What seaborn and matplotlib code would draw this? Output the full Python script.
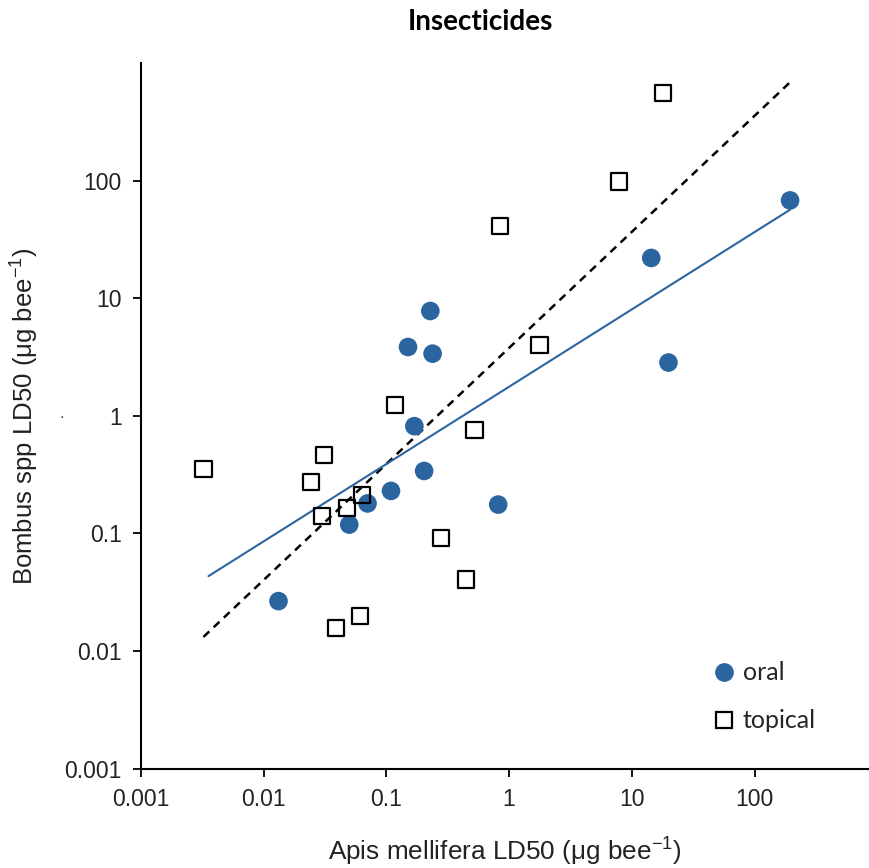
import numpy as np
import pandas as pd
import seaborn as sns
import matplotlib.pyplot as plt
from matplotlib.lines import Line2D

### Data (ug per bee).
oral_apis = [0.0132, 0.0498, 0.0702, 0.109, 0.203, 0.815, 0.169, 0.228, 0.150, 0.238, 14.4, 195, 19.9]
oral_bombus = [0.0266, 0.119, 0.180, 0.230, 0.340, 0.176, 0.817, 7.79, 3.85, 3.38, 22.0, 67.9, 2.84]

topical_apis = [0.00323, 0.0311, 0.0244, 0.0301, 0.0476, 0.0631, 0.278, 0.445, 0.0611, 0.039,
                0.118, 0.522, 0.845, 1.77, 18.1, 7.89]
topical_bombus = [0.356, 0.462, 0.274, 0.140, 0.165, 0.214, 0.0909, 0.0406, 0.0200, 0.0156,
                  1.23, 0.755, 40.8, 3.98, 558, 98.4]

### Fitted lines (end points).
oral_fit_x = [0.00355, 195]
oral_fit_y = [0.0434, 56.6]
topical_fit_x = [0.00323, 198]
topical_fit_y = [0.0132, 697]

tick_vals = [0.001, 0.01, 0.1, 1, 10, 100]
tick_labels = ['0.001', '0.01', '0.1', '1', '10', '100']

oral = pd.DataFrame({'apis': oral_apis, 'bombus': oral_bombus})
topical = pd.DataFrame({'apis': topical_apis, 'bombus': topical_bombus})

blue = '#2b65a0'

sns.set_style('white')
plt.rcParams['font.family'] = ['Liberation Sans', 'DejaVu Sans']
plt.rcParams['mathtext.fontset'] = 'custom'
plt.rcParams['mathtext.rm'] = 'Liberation Sans'
plt.rcParams['mathtext.it'] = 'Liberation Sans'

fig = plt.figure(figsize=(8.70, 8.68), dpi=100)
ax = fig.add_axes([141 / 870, (868 - 768.7) / 868, 727 / 870, 705.7 / 868])

### Lines.
sns.lineplot(x=topical_fit_x, y=topical_fit_y, ax=ax, color='black', linewidth=1.8,
             linestyle=(0, (3.2, 2.4)), zorder=2)
sns.lineplot(x=oral_fit_x, y=oral_fit_y, ax=ax, color=blue, linewidth=1.5, zorder=2)

### Points.
sns.scatterplot(x='apis', y='bombus', data=oral, ax=ax, color=blue, s=180,
                edgecolor='none', zorder=3)
sns.scatterplot(x='apis', y='bombus', data=topical, ax=ax, marker='s', s=135,
                facecolor='none', edgecolor='black', linewidth=1.6, zorder=4)

ax.set_xscale('log')
ax.set_yscale('log')
ax.set_xlim(0.001, 10 ** 2.925)
ax.set_ylim(0.001, 1000)
ax.set_xticks(tick_vals)
ax.set_xticklabels(tick_labels)
ax.set_yticks(tick_vals)
ax.set_yticklabels(tick_labels)
ax.minorticks_off()

sns.despine(ax=ax)
for side in ['left', 'bottom']:
    ax.spines[side].set_color('black')
    ax.spines[side].set_linewidth(1.5)
ax.tick_params(axis='both', direction='out', length=6, width=1.3, color='black',
               labelsize=16.5, labelcolor='#222222', pad=8, bottom=True, left=True)

ax.set_xlabel(r'Apis mellifera LD50 ($\mathrm{\mu}$g bee$^{-1}$)', fontsize=18.8, color='#222222')
ax.set_ylabel(r'Bombus spp LD50 ($\mathrm{\mu}$g bee$^{-1}$)', fontsize=18.5, color='#222222')
ax.xaxis.set_label_coords(0.5, -0.095)
ax.yaxis.set_label_coords(-0.137, 0.5)

fig.text(480 / 870, 1 - 22 / 868, 'Insecticides', fontsize=20, fontweight='bold',
         family=['Lato', 'DejaVu Sans'], ha='center', va='center', color='black')
fig.text(62 / 870, 1 - 413 / 868, '.', fontsize=12, color='#444444', ha='center', va='center')

### Legend.
handles = [Line2D([], [], marker='o', linestyle='none', markersize=13.5, color=blue,
                  markeredgecolor='none', label='oral'),
           Line2D([], [], marker='s', linestyle='none', markersize=11, markerfacecolor='none',
                  markeredgecolor='black', markeredgewidth=1.6, label='topical')]
leg = ax.legend(handles=handles, loc='upper left', bbox_to_anchor=(0.785, 0.152),
                frameon=False, prop={'family': 'Lato', 'size': 18}, handlelength=1.0,
                handletextpad=0.25, labelspacing=1.0, borderpad=0, borderaxespad=0)

fig.savefig('out.png', dpi=100)
